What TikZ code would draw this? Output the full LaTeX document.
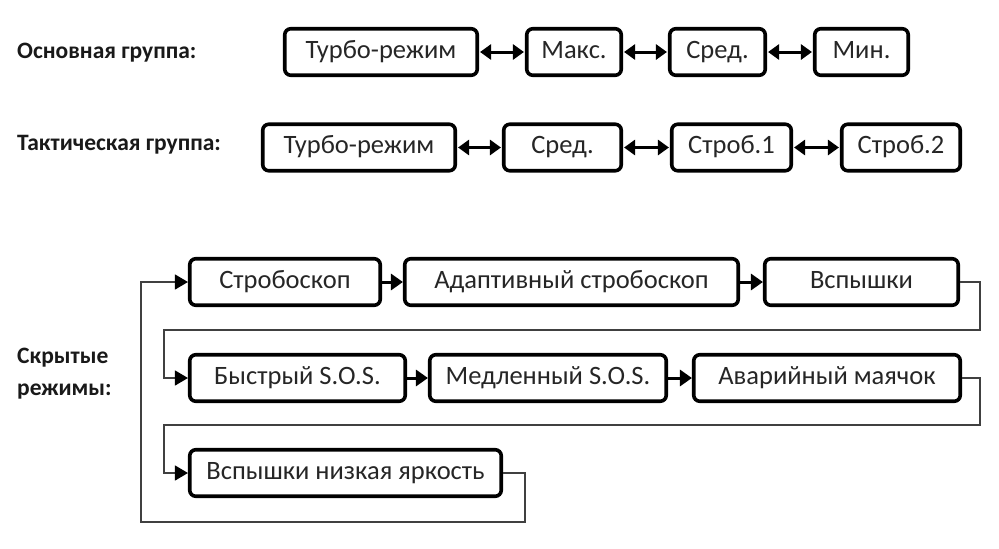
\documentclass[tikz,border=0pt]{standalone}
\usepackage{fontspec}
\setmainfont{Carlito}
\usetikzlibrary{arrows.meta}
\begin{document}
\begin{tikzpicture}[x=1pt,y=-1pt,
  modebox/.style={draw=black,line width=3.6pt,rounded corners=6pt,minimum height=46.5pt,inner sep=0pt,text height=18pt,text depth=6pt,font=\fontsize{26.5}{30}\selectfont,text=black!85},
  grouplabel/.style={anchor=west,inner sep=0pt,font=\bfseries\fontsize{23.5}{32}\selectfont,align=left,text=black!90},
  dbl/.style={line width=3pt,{Triangle[length=11pt,width=15pt]}-{Triangle[length=11pt,width=15pt]},shorten <=1pt,shorten >=1pt},
  sgl/.style={line width=3pt,-{Triangle[length=12pt,width=16pt]}},
  link/.style={line width=1.3pt,draw=black!75,-{Triangle[length=13pt,width=15pt,fill=black,color=black]}},
  plain/.style={line width=1.3pt,draw=black!75}]
\useasboundingbox[fill=white] (0,0) rectangle (999,549);
% labels
\node[grouplabel] (lab1) at (17,53) {Основная группа:};
\node[grouplabel] (lab2) at (17,145) {Тактическая группа:};
\node[grouplabel] (lab3) at (17,374) {Скрытые\\режимы:};
% row 1
\node[modebox,minimum width=192.5pt] (t1) at (381,52) {Турбо-режим};
\node[modebox,minimum width=94.5pt] (m1) at (574,52) {Макс.};
\node[modebox,minimum width=95.5pt] (s1) at (717.5,52) {Сред.};
\node[modebox,minimum width=93.5pt] (n1) at (861.5,52) {Мин.};
\draw[dbl] (t1.east) -- (m1.west);
\draw[dbl] (m1.east) -- (s1.west);
\draw[dbl] (s1.east) -- (n1.west);
% row 2
\node[modebox,minimum width=192.5pt] (t2) at (359,147.5) {Турбо-режим};
\node[modebox,minimum width=117.5pt] (s2) at (562.5,147.5) {Сред.};
\node[modebox,minimum width=119.5pt] (st1) at (731.5,147.5) {Строб.1};
\node[modebox,minimum width=118.5pt] (st2) at (901,147.5) {Строб.2};
\draw[dbl] (t2.east) -- (s2.west);
\draw[dbl] (s2.east) -- (st1.west);
\draw[dbl] (st1.east) -- (st2.west);
% hidden modes
\node[modebox,minimum width=190.5pt] (a) at (285,282) {Стробоскоп};
\node[modebox,minimum width=333.5pt] (b) at (571.5,282) {Адаптивный стробоскоп};
\node[modebox,minimum width=193.5pt] (c) at (861.5,282) {Вспышки};
\node[modebox,minimum width=215.5pt] (d) at (297.5,378) {Быстрый S.O.S.};
\node[modebox,minimum width=236.5pt] (e) at (548,378) {Медленный S.O.S.};
\node[modebox,minimum width=266.5pt] (f) at (827,378) {Аварийный маячок};
\node[modebox,minimum width=311.5pt] (g) at (345.5,473) {Вспышки низкая яркость};
\draw[sgl] (a.east) -- (b.west);
\draw[sgl] (b.east) -- (c.west);
\draw[sgl] (d.east) -- (e.west);
\draw[sgl] (e.east) -- (f.west);
\coordinate (c1) at (980,282);
\coordinate (c2) at (980,330);
\coordinate (c3) at (164,330);
\coordinate (c4) at (164,378);
\coordinate (f1) at (980,378);
\coordinate (f2) at (980,425);
\coordinate (f3) at (164,425);
\coordinate (f4) at (164,473);
\coordinate (g1) at (525,473);
\coordinate (g2) at (525,522);
\coordinate (g3) at (141,522);
\coordinate (g4) at (141,282);
\draw[link] (c.east) -- (c1) -- (c2) -- (c3) -- (c4) -- (d.west);
\draw[link] (f.east) -- (f1) -- (f2) -- (f3) -- (f4) -- (g.west);
\draw[link] (g.east) -- (g1) -- (g2) -- (g3) -- (g4) -- (a.west);
\end{tikzpicture}
\end{document}
